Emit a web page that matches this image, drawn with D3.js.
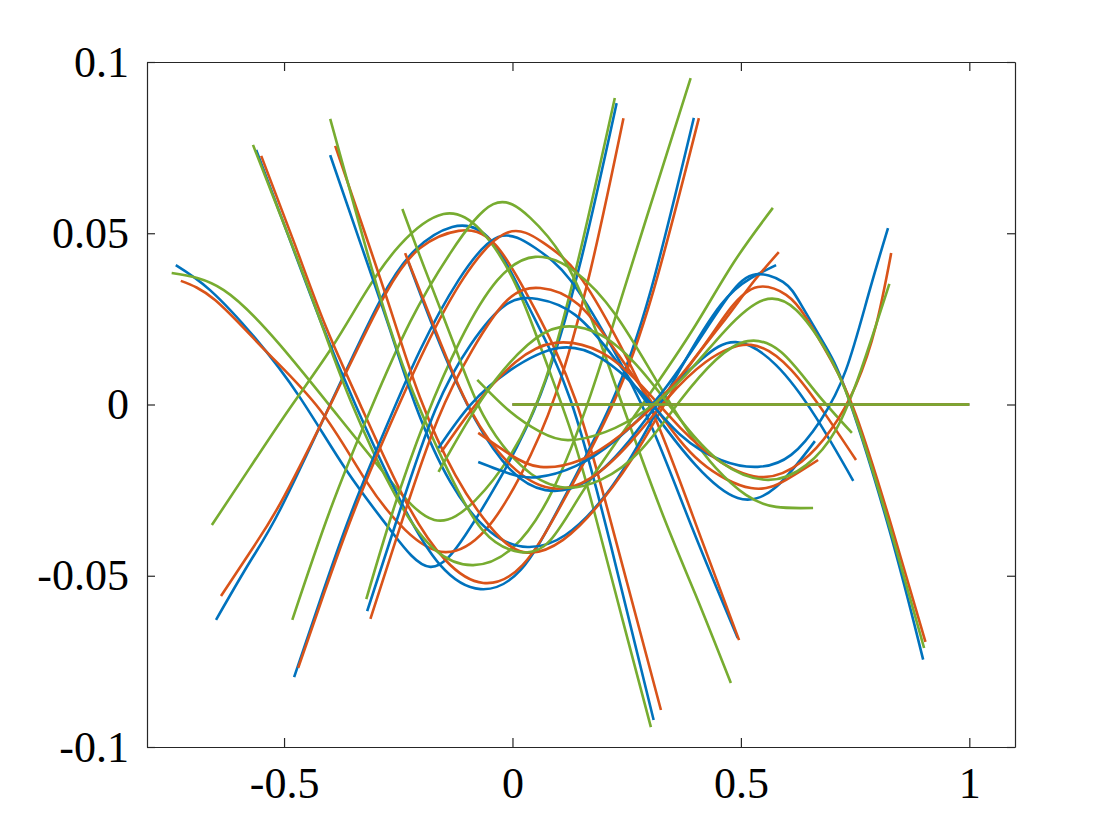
<!DOCTYPE html>
<html>
<head>
<meta charset="utf-8">
<script src="https://cdn.jsdelivr.net/npm/d3@7"></script>
<style>
  body { margin: 0; background: #fff; }
  .tick text { font-family: "Liberation Serif", "Times New Roman", serif; font-size: 44px; fill: #000; }
</style>
</head>
<body>
<div id="chart"></div>
<script>
// axis ticks
var xTicks = [-0.5, 0, 0.5, 1];
var xTickLabels = ["-0.5", "0", "0.5", "1"];
var yTicks = [-0.1, -0.05, 0, 0.05, 0.1];
var yTickLabels = ["-0.1", "-0.05", "0", "0.05", "0.1"];

// one curve per window, windows in order W1..W10, [x, y] pairs
var blueCurves = [
  [[-0.737,0.0407],[-0.662,0.0334],[-0.564,0.0195],[-0.465,0.0020],[-0.362,-0.0195],[-0.268,-0.0365],[-0.180,-0.0474],[-0.103,-0.0381],[-0.033,-0.0229],[0.061,0.0028],[0.149,0.0416],[0.228,0.0880]],
  [[-0.649,-0.0629],[-0.575,-0.0460],[-0.509,-0.0308],[-0.399,0.0],[-0.289,0.0305],[-0.213,0.0451],[-0.132,0.0518],[-0.048,0.0480],[0.039,0.0276],[0.127,0.0013],[0.215,-0.0410],[0.309,-0.0921]],
  [[-0.561,0.0743],[-0.487,0.0480],[-0.421,0.0247],[-0.344,0.0],[-0.246,-0.0279],[-0.158,-0.0469],[-0.070,-0.0539],[0.018,-0.0483],[0.105,-0.0293],[0.215,0.0],[0.303,0.0334],[0.397,0.0837]],
  [[-0.478,-0.0796],[-0.417,-0.0556],[-0.355,-0.0323],[-0.279,-0.0074],[-0.202,0.0159],[-0.118,0.0363],[-0.031,0.0489],[0.050,0.0457],[0.127,0.0363],[0.215,0.0174],[0.303,-0.0060],[0.395,-0.0366],[0.493,-0.0682]],
  [[-0.399,0.0728],[-0.333,0.0472],[-0.268,0.0218],[-0.213,0.0],[-0.136,-0.0226],[-0.048,-0.0372],[0.033,-0.0416],[0.116,-0.0381],[0.204,-0.0264],[0.281,-0.0104],[0.368,0.0105],[0.456,0.0291],[0.522,0.0369],[0.577,0.0407]],
  [[-0.318,-0.0603],[-0.246,-0.0308],[-0.169,-0.0016],[-0.092,0.0174],[-0.015,0.0291],[0.055,0.0308],[0.138,0.0261],[0.226,0.0130],[0.314,-0.0031],[0.401,-0.0177],[0.493,-0.0273],[0.577,-0.0241],[0.662,-0.0107]],
  [[-0.228,0.0416],[-0.158,0.0174],[-0.081,-0.0045],[-0.004,-0.0191],[0.072,-0.0250],[0.160,-0.0226],[0.248,-0.0118],[0.325,0.0013],[0.412,0.0130],[0.489,0.0182],[0.577,0.0115],[0.664,-0.0037],[0.746,-0.0223]],
  [[-0.162,-0.0127],[-0.092,-0.0001],[-0.004,0.0101],[0.101,0.0165],[0.193,0.0136],[0.281,0.0036],[0.368,-0.0089],[0.456,-0.0162],[0.537,-0.0182],[0.610,-0.0147],[0.675,-0.0045],[0.730,0.0101],[0.779,0.0320],[0.822,0.0515]],
  [[-0.075,-0.0168],[-0.004,-0.0203],[0.055,-0.0212],[0.138,-0.0180],[0.226,-0.0104],[0.314,0.0013],[0.401,0.0174],[0.467,0.0305],[0.526,0.0378],[0.592,0.0358],[0.632,0.0291],[0.686,0.0168],[0.737,0.0013],[0.825,-0.0366],[0.899,-0.0745]],
  [[0,0],[1,0]]
];

var orangeCurves = [
  [[-0.726,0.0361],[-0.651,0.0305],[-0.542,0.0159],[-0.421,-0.0016],[-0.322,-0.0220],[-0.235,-0.0366],[-0.147,-0.0431],[-0.059,-0.0366],[0.018,-0.0206],[0.094,0.0028],[0.171,0.0393],[0.243,0.0836]],
  [[-0.638,-0.0559],[-0.564,-0.0410],[-0.498,-0.0264],[-0.388,0.0028],[-0.279,0.0320],[-0.202,0.0457],[-0.118,0.0507],[-0.037,0.0466],[0.050,0.0276],[0.138,0.0013],[0.226,-0.0396],[0.325,-0.0892]],
  [[-0.550,0.0726],[-0.476,0.0466],[-0.410,0.0232],[-0.333,-0.0001],[-0.235,-0.0279],[-0.147,-0.0454],[-0.064,-0.0521],[0.022,-0.0469],[0.110,-0.0285],[0.219,-0.0001],[0.309,0.0334],[0.408,0.0836]],
  [[-0.469,-0.0769],[-0.410,-0.0542],[-0.344,-0.0302],[-0.268,-0.0060],[-0.191,0.0165],[-0.107,0.0369],[-0.013,0.0501],[0.068,0.0472],[0.145,0.0378],[0.230,0.0188],[0.316,-0.0051],[0.406,-0.0366],[0.496,-0.0688]],
  [[-0.388,0.0755],[-0.329,0.0524],[-0.263,0.0261],[-0.202,0.0019],[-0.125,-0.0206],[-0.048,-0.0358],[0.024,-0.0431],[0.110,-0.0396],[0.197,-0.0279],[0.281,-0.0118],[0.368,0.0077],[0.456,0.0232],[0.522,0.0349],[0.583,0.0445]],
  [[-0.311,-0.0626],[-0.241,-0.0337],[-0.164,-0.0045],[-0.088,0.0159],[-0.011,0.0305],[0.061,0.0340],[0.145,0.0291],[0.232,0.0145],[0.320,-0.0022],[0.412,-0.0168],[0.522,-0.0244],[0.599,-0.0220],[0.669,-0.0162]],
  [[-0.235,0.0442],[-0.169,0.0218],[-0.092,-0.0016],[-0.004,-0.0177],[0.083,-0.0244],[0.171,-0.0215],[0.259,-0.0109],[0.336,0.0013],[0.423,0.0124],[0.522,0.0174],[0.610,0.0101],[0.686,-0.0031],[0.752,-0.0162]],
  [[-0.156,-0.0139],[-0.081,-0.0001],[0.007,0.0124],[0.094,0.0180],[0.193,0.0153],[0.281,0.0057],[0.368,-0.0069],[0.456,-0.0168],[0.550,-0.0212],[0.632,-0.0168],[0.697,-0.0074],[0.752,0.0057],[0.796,0.0232],[0.829,0.0442]],
  [[-0.075,-0.0083],[-0.004,-0.0147],[0.061,-0.0182],[0.149,-0.0162],[0.237,-0.0089],[0.325,0.0019],[0.412,0.0159],[0.478,0.0282],[0.537,0.0343],[0.599,0.0320],[0.643,0.0253],[0.697,0.0130],[0.752,-0.0031],[0.829,-0.0352],[0.904,-0.0693]],
  [[0,0],[1,0]]
];

var greenCurves = [
  [[-0.746,0.0384],[-0.632,0.0334],[-0.509,0.0174],[-0.390,-0.0020],[-0.274,-0.0212],[-0.171,-0.0337],[-0.081,-0.0279],[-0.004,-0.0147],[0.072,0.0072],[0.149,0.0451],[0.224,0.0895]],
  [[-0.658,-0.0352],[-0.575,-0.0185],[-0.487,-0.0010],[-0.399,0.0159],[-0.325,0.0320],[-0.246,0.0466],[-0.151,0.0556],[-0.070,0.0509],[0.007,0.0350],[0.072,0.0130],[0.127,-0.0074],[0.178,-0.0308],[0.241,-0.0629],[0.303,-0.0942]],
  [[-0.568,0.0758],[-0.491,0.0495],[-0.425,0.0261],[-0.355,0.0013],[-0.257,-0.0264],[-0.169,-0.0425],[-0.086,-0.0469],[0.0,-0.0419],[0.088,-0.0250],[0.171,0.0028],[0.237,0.0305],[0.314,0.0632],[0.390,0.0953]],
  [[-0.482,-0.0629],[-0.399,-0.0308],[-0.311,-0.0016],[-0.224,0.0241],[-0.136,0.0442],[-0.042,0.0585],[0.039,0.0545],[0.116,0.0416],[0.182,0.0218],[0.237,0.0013],[0.325,-0.0308],[0.401,-0.0556],[0.478,-0.0813]],
  [[-0.399,0.0834],[-0.344,0.0568],[-0.289,0.0311],[-0.224,0.0057],[-0.147,-0.0177],[-0.066,-0.0366],[0.018,-0.0431],[0.083,-0.0396],[0.149,-0.0264],[0.226,-0.0112],[0.314,0.0057],[0.401,0.0232],[0.485,0.0416],[0.570,0.0574]],
  [[-0.320,-0.0568],[-0.261,-0.0308],[-0.191,-0.0045],[-0.114,0.0188],[-0.033,0.0363],[0.050,0.0431],[0.138,0.0387],[0.226,0.0261],[0.314,0.0072],[0.390,-0.0089],[0.445,-0.0185],[0.511,-0.0264],[0.577,-0.0299],[0.658,-0.0302]],
  [[-0.241,0.0571],[-0.191,0.0393],[-0.125,0.0165],[-0.064,-0.0031],[0.018,-0.0177],[0.105,-0.0241],[0.193,-0.0220],[0.281,-0.0133],[0.368,0.0013],[0.445,0.0130],[0.515,0.0185],[0.588,0.0153],[0.664,0.0036],[0.743,-0.0083]],
  [[-0.162,-0.0197],[-0.103,-0.0060],[-0.037,0.0072],[0.033,0.0174],[0.105,0.0226],[0.193,0.0203],[0.281,0.0101],[0.368,-0.0045],[0.456,-0.0168],[0.559,-0.0220],[0.643,-0.0177],[0.708,-0.0074],[0.763,0.0101],[0.825,0.0352]],
  [[-0.077,0.0072],[-0.004,-0.0022],[0.061,-0.0080],[0.121,-0.0104],[0.204,-0.0080],[0.292,-0.0016],[0.379,0.0086],[0.467,0.0218],[0.550,0.0305],[0.621,0.0276],[0.686,0.0159],[0.741,-0.0001],[0.818,-0.0323],[0.901,-0.0711]],
  [[0,0],[1,0]]
];

var seriesColors = ["#0072BD", "#D95319", "#77AC30"];

var width = 1120, height = 840;
var margin = {top: 62, right: 105, bottom: 93, left: 147};

var svg = d3.select("#chart")
  .append("svg")
  .attr("width", width)
  .attr("height", height)
  .style("background", "#fff");

var x = d3.scaleLinear().domain([-0.8, 1.1]).range([margin.left, width - margin.right]);
var y = d3.scaleLinear().domain([-0.1, 0.1]).range([height - margin.bottom, margin.top]);

var line = d3.line()
  .x(function(d) { return x(d[0]); })
  .y(function(d) { return y(d[1]); })
  .curve(d3.curveNatural);

var plot = svg.append("g").attr("class", "plot");

// window by window: blue, orange, green
var groups = [blueCurves, orangeCurves, greenCurves];
for (var w = 0; w < blueCurves.length; w++) {
  for (var c = 0; c < groups.length; c++) {
    plot.append("path")
      .datum(groups[c][w])
      .attr("d", line)
      .attr("fill", "none")
      .attr("stroke", seriesColors[c])
      .attr("stroke-width", 2.6)
      .attr("stroke-linejoin", "round");
  }
}

// axes, ticks pointing inward
var axisColor = "#262626";

svg.append("g")
  .attr("transform", "translate(0," + y(-0.1) + ")")
  .call(d3.axisBottom(x).tickValues(xTicks)
    .tickFormat(function(d, i) { return xTickLabels[i]; })
    .tickSize(-9).tickSizeOuter(0).tickPadding(20));

svg.append("g")
  .attr("transform", "translate(0," + y(0.1) + ")")
  .call(d3.axisTop(x).tickValues(xTicks).tickFormat("")
    .tickSize(-9).tickSizeOuter(0));

svg.append("g")
  .attr("transform", "translate(" + x(-0.8) + ",0)")
  .call(d3.axisLeft(y).tickValues(yTicks)
    .tickFormat(function(d, i) { return yTickLabels[i]; })
    .tickSize(-8).tickSizeOuter(0).tickPadding(18));

svg.append("g")
  .attr("transform", "translate(" + x(1.1) + ",0)")
  .call(d3.axisRight(y).tickValues(yTicks).tickFormat("")
    .tickSize(-8).tickSizeOuter(0));

svg.selectAll(".domain, .tick line")
  .attr("stroke", axisColor)
  .attr("stroke-width", 1.2);

svg.selectAll(".tick text")
  .attr("fill", "#000");
</script>
</body>
</html>
